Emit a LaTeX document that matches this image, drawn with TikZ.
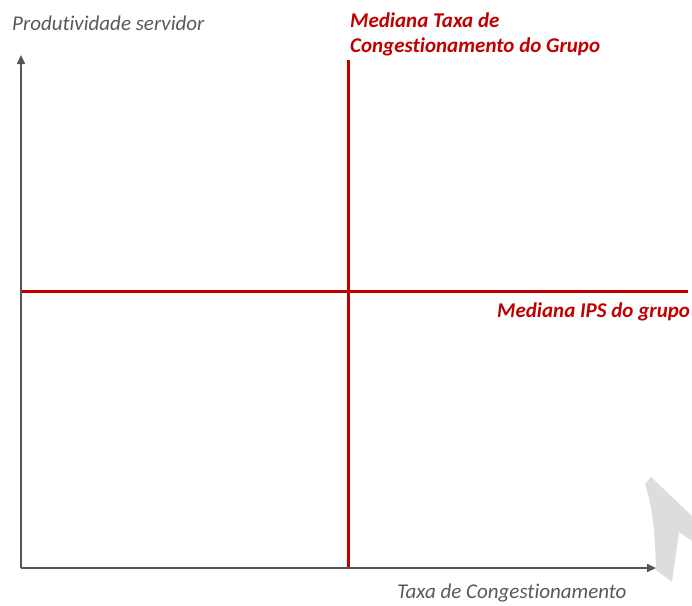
\documentclass[tikz,border=0pt]{standalone}
\usepackage{fontspec}
\setmainfont{Carlito}[Ligatures={NoCommon}]
\usetikzlibrary{arrows.meta}
\definecolor{axisgray}{HTML}{555555}
\definecolor{labelgray}{HTML}{595959}
\definecolor{medred}{HTML}{C00000}
\definecolor{wmgray}{HTML}{DDDDDD}
\begin{document}
\begin{tikzpicture}[x=1pt,y=-1pt,
  axis/.style={draw=axisgray,line width=1.6pt,-{Triangle[length=9pt,width=8pt]}},
  medline/.style={draw=medred,line width=3pt},
  axislabel/.style={font=\fontsize{21}{25}\selectfont\itshape,text=labelgray,inner sep=0pt,anchor=base west},
  medlabel/.style={font=\fontsize{21}{26}\selectfont\bfseries\itshape,text=medred,inner sep=0pt,anchor=base west}]
\useasboundingbox (0,0) rectangle (692,605);
% watermark shape
\fill[wmgray] (645,484) -- (651,477) -- (692,516) -- (692,541) -- (679,532)
  -- (672,582) -- (656,570) .. controls (655,530) and (652,505) .. cycle;
% coordinates
\coordinate (O) at (21,568);
\coordinate (Ytop) at (21,55);
\coordinate (Xend) at (656,568);
\coordinate (Vtop) at (348,60);
\coordinate (Vbot) at (348,568);
\coordinate (Hl) at (21,291);
\coordinate (Hr) at (688,291);
% median lines
\draw[medline] (Vtop) -- (Vbot);
\draw[medline] (Hl) -- (Hr);
% axes
\draw[axis] (O) -- (Ytop);
\draw[axis] (O) -- (Xend);
% labels
\node[axislabel] (ylab) at (12,30) {Produtividade servidor};
\node[axislabel] (xlab) at (397,598) {Taxa de Congestionamento};
\node[medlabel] (vlab1) at (350,27) {Mediana Taxa de};
\node[medlabel] (vlab2) at (350,52) {Congestionamento do Grupo};
\node[medlabel] (hlab) at (497,317) {Mediana IPS do grupo};
\end{tikzpicture}
\end{document}
